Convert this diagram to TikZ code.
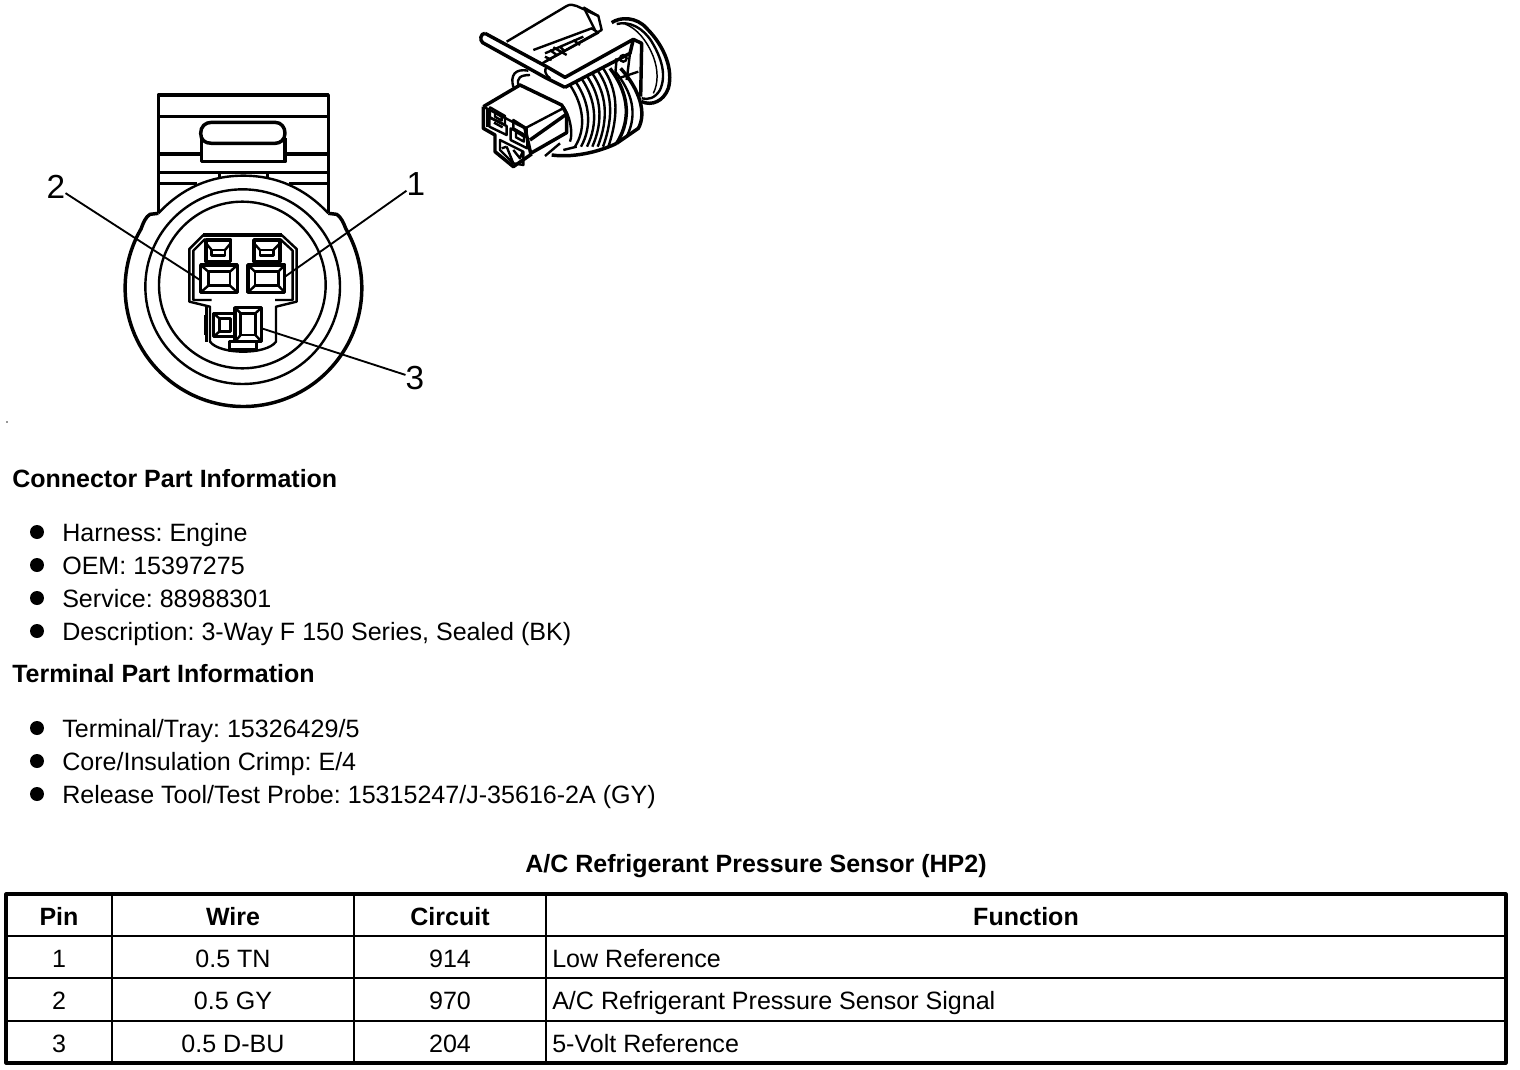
\documentclass[tikz,border=0pt]{standalone}
\usepackage{fontspec}
\setmainfont{Liberation Sans}
\frenchspacing
\begin{document}
\begin{tikzpicture}[x=0.75pt,y=-0.75pt,line join=round,
  txt/.style={anchor=base west,inner sep=0pt,font=\fontsize{18.8}{20}\selectfont},
  head/.style={txt,font=\fontsize{18.75}{20}\selectfont\bfseries},
  cell/.style={anchor=base,inner sep=0pt,font=\fontsize{18.8}{20}\selectfont},
  hcell/.style={cell,font=\fontsize{18.75}{20}\selectfont\bfseries},
  num/.style={inner sep=0pt,font=\fontsize{25}{27}\selectfont},
  dotb/.style={circle,fill=black,inner sep=0pt,minimum size=10.5pt},
  lead/.style={line width=1.4pt},
  thk/.style={line width=2.6pt},
  med/.style={line width=1.8pt},
  thn/.style={line width=1.1pt},
  grid/.style={line width=1.1pt},
  frame/.style={line width=2.3pt}]
\useasboundingbox (0,0) rectangle (1520,1070);

% ---------- front view ----------
\begin{scope}[x=0.25pt,y=-0.25pt,shift={(82.5pt,-63.75pt)}]
 % tab
 \draw[thk] (145,385)--(145,30)--(655,30)--(655,385);
 \draw[med] (145,95)--(655,95);
 \draw[thk] (305,112) -- (495,112) .. controls (515,112) and (525,128) .. (525,145) .. controls (525,165) and (510,175) .. (495,175) -- (305,175) .. controls (285,175) and (272,165) .. (272,145) .. controls (272,125) and (285,112) .. (305,112);
 \draw[thk] (275,160)--(275,230)--(525,230)--(525,160);
 \draw[thk] (145,207)--(275,207) (525,207)--(655,207);
 \draw[med] (145,262)--(655,262);
 \draw[med] (145,295)--(262,295) (538,295)--(655,295);
 \draw[med] (328,262)--(328,280) (472,262)--(472,280);
 % circles
 \draw[thk] (145,385)--(120,388) .. controls (108,395) and (100,412) .. (93,432) arc[start angle=210,end angle=-30,radius=355] .. controls (700,412) and (692,395) .. (680,388)--(655,385);
 \draw[med] (145,385) .. controls (215,310) and (300,272) .. (400,272) .. controls (500,272) and (585,310) .. (655,385);
 \draw[med] (398,605) circle[radius=292];
 \draw[med] (397,600) circle[radius=250];
 % housing
 \draw[thk] (280,450)--(515,450);
 \draw[med] (280,450)--(238,492)--(238,650)--(300,665)--(300,770)
   .. controls (330,810) and (470,810) .. (498,770)--(498,665)--(560,650)--(560,492)--(515,450);
 \draw[med] (285,462)--(250,497)--(250,645)--(305,645);
 \draw[med] (510,462)--(548,497)--(548,645)--(495,645);
 \draw[med] (285,690)--(285,750) (290,665)--(290,770);
 % upper small terminals
 \draw[thk] (288,465) rectangle (362,530);
 \draw[thk] (432,465) rectangle (510,530);
 \draw[med] (305,495) rectangle (345,512) (450,495) rectangle (490,512);
 \draw[med] (288,475)--(305,495) (362,475)--(345,495) (432,475)--(450,495) (510,475)--(490,495);
 % main terminals
 \draw[thk] (272,540) rectangle (382,622);
 \draw[thk] (414,540) rectangle (524,622);
 \draw[med] (295,560) rectangle (360,602);
 \draw[med] (435,560) rectangle (505,602);
 \draw[med] (272,540)--(295,560) (382,540)--(360,560) (272,622)--(295,602) (382,622)--(360,602);
 \draw[med] (414,540)--(435,560) (524,540)--(505,560) (414,622)--(435,602) (524,622)--(505,602);
 % lower terminals
 \draw[thk] (310,685) rectangle (375,755);
 \draw[thk] (328,700) rectangle (362,740);
 \draw[med] (310,685)--(328,700) (310,755)--(328,740);
 \draw[thk] (375,668) rectangle (455,770);
 \draw[med] (392,685) rectangle (436,750);
 \draw[med] (375,668)--(392,685) (455,668)--(436,685) (375,770)--(392,750) (455,770)--(436,750);
 \draw[thk] (358,770) rectangle (440,795);
 \coordinate (p1) at (525,575);
 \coordinate (p2) at (270,585);
 \coordinate (p3) at (455,730);
\end{scope}

\node[num] (n2) at (56,187) {2};
\node[num] (n1) at (416,184) {1};
\node[num] (n3) at (415,378) {3};
\draw[lead] (n2) -- (p2);
\draw[lead] (n1) -- (p1);
\draw[lead] (n3) -- (p3);

% ---------- perspective view ----------
\begin{scope}[x=0.25pt,y=-0.25pt,shift={(352.5pt,0pt)}]
 % rear disc
 \draw[thk] (425,68) .. controls (450,50) and (500,50) .. (530,85) .. controls (585,140) and (610,210) .. (595,265) .. controls (580,305) and (545,318) .. (515,305);
 \draw[med] (440,72) .. controls (480,62) and (520,85) .. (545,125) .. controls (575,175) and (590,225) .. (570,270) .. controls (555,295) and (535,300) .. (515,295);
 \draw[thn] (465,72) .. controls (500,85) and (530,120) .. (550,170) .. controls (565,210) and (565,250) .. (550,280);
 % upper latch
 \draw[med] (110,125)--(290,18) .. controls (300,12) and (310,14) .. (320,18)--(385,48)--(395,90)--(345,118)--(190,205);
 \draw[med] (340,22)--(385,48) (345,30)--(375,90);
 \draw[med] (190,150)--(365,85)--(385,98)--(225,185) (225,160)--(340,110);
 \draw[med] (240,150)--(260,165) (270,140)--(285,155) (310,120)--(330,135) (250,142)--(290,165);
 \draw[med] (225,170)--(245,180);
 % strap
 \fill[white] (45,100)--(230,200)--(285,232)--(490,118)--(480,160)--(285,262)--(225,232)--(38,128)--cycle;
 \draw[thk] (45,100) .. controls (32,100) and (28,120) .. (38,128) -- (225,232) -- (285,262);
 \draw[thk] (45,100)--(230,200)--(285,232)--(490,118)--(515,130)--(512,290);
 \draw[thk] (285,262) -- (480,160) -- (490,118);
 \draw[med] (230,200) .. controls (222,210) and (225,225) .. (240,235);
 \draw[med] (480,160)--(470,240) (440,175)--(435,230) (445,235)--(505,215);
 \draw[med] (460,175) circle[radius=10];
 % ring behind block
 \draw[med] (130,262) .. controls (120,225) and (135,205) .. (175,212);
 \draw[med] (145,255) .. controls (140,235) and (150,225) .. (180,225);
 % ribs
 \foreach \a/\b in {300/255,318/247,336/238,352/230,368/222,384/213,400/206}{
   \draw[med] (\a,\b) .. controls (\a+40,\b+60) and (\a+50,\b+130) .. (\a+15,440);
 }
 \draw[thk] (420,205) .. controls (470,270) and (490,350) .. (440,430);
 \draw[thk] (452,205) .. controls (510,270) and (530,340) .. (505,385) -- (440,430);
 \draw[med] (436,215) .. controls (485,275) and (505,340) .. (470,410);
 \draw[thk] (245,465) .. controls (320,475) and (400,450) .. (440,430);
 \draw[med] (225,468) -- (270,430) (280,450)--(320,440);
 \draw[med] (275,315) .. controls (300,340) and (310,400) .. (300,425);
 % front block
 \draw[thk] (40,320)--(150,255)--(275,315)--(290,342)--(180,420);
 \draw[med] (40,320)--(165,385)--(285,322);
 \draw[thk] (165,385)--(182,460)--(290,398)--(290,342);
 \draw[thk] (40,320)--(40,385)--(75,405)--(75,455)--(130,500)--(185,462);
 \draw[thk] (52,328)--(52,380);
 \draw[med] (60,322)--(105,348)--(105,375)--(60,352)--cycle;
 \draw[med] (75,338)--(95,350)--(95,362)--(75,350)--cycle;
 \draw[med] (58,352)--(110,378)--(110,405)--(58,380)--cycle;
 \draw[med] (72,368)--(98,382);
 \draw[med] (122,385)--(172,412)--(172,445)--(122,420)--cycle;
 \draw[med] (130,360)--(170,385)--(170,408)--(130,385)--cycle;
 \draw[med] (138,395)--(162,410)--(162,425)--(138,412)--cycle;
 \draw[med] (90,420)--(160,455)--(160,495)--(130,490)--(90,450)--cycle;
 \draw[med] (110,440)--(130,490) (130,450)--(150,475)--(158,455);
 \draw[med] (95,445)--(110,440);
\end{scope}

\filldraw (7,422) circle[radius=0.4];

% ---------- text ----------
\node[head] (h1) at (12,487) {Connector Part Information};
\node[dotb] (b1) at (37,532) {};
\node[txt] (t1) at (62,541) {Harness: Engine};
\node[dotb] (b2) at (37,565) {};
\node[txt] (t2) at (62,574) {OEM: 15397275};
\node[dotb] (b3) at (37,598) {};
\node[txt] (t3) at (62,607) {Service: 88988301};
\node[dotb] (b4) at (37,631) {};
\node[txt] (t4) at (62,640) {Description: 3-Way F 150 Series, Sealed (BK)};
\node[head] (h2) at (12,682) {Terminal Part Information};
\node[dotb] (b5) at (37,728) {};
\node[txt] (t5) at (62,737) {Terminal/Tray: 15326429/5};
\node[dotb] (b6) at (37,761) {};
\node[txt] (t6) at (62,770) {Core/Insulation Crimp: E/4};
\node[dotb] (b7) at (37,794) {};
\node[txt] (t7) at (62,803) {Release Tool/Test Probe: 15315247/J-35616-2A (GY)};
\node[hcell] (title) at (756,872) {A/C Refrigerant Pressure Sensor (HP2)};

% ---------- table ----------
\draw[frame] (6,894) rectangle (1506,1063);
\draw[grid] (6,936)--(1506,936) (6,978)--(1506,978) (6,1021)--(1506,1021);
\draw[grid] (112,894)--(112,1063) (354,894)--(354,1063) (546,894)--(546,1063);
\node[hcell] (c00) at (59,925) {Pin};
\node[hcell] (c01) at (233,925) {Wire};
\node[hcell] (c02) at (450,925) {Circuit};
\node[hcell] (c03) at (1026,925) {Function};
\node[cell] (c10) at (59,967) {1};
\node[cell] (c11) at (233,967) {0.5 TN};
\node[cell] (c12) at (450,967) {914};
\node[txt] (c13) at (552,967) {Low Reference};
\node[cell] (c20) at (59,1009) {2};
\node[cell] (c21) at (233,1009) {0.5 GY};
\node[cell] (c22) at (450,1009) {970};
\node[txt] (c23) at (552,1009) {A/C Refrigerant Pressure Sensor Signal};
\node[cell] (c30) at (59,1052) {3};
\node[cell] (c31) at (233,1052) {0.5 D-BU};
\node[cell] (c32) at (450,1052) {204};
\node[txt] (c33) at (552,1052) {5-Volt Reference};
\end{tikzpicture}
\end{document}
